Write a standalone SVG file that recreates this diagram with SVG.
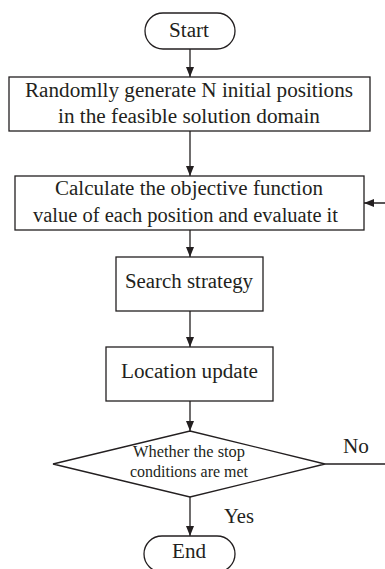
<svg xmlns="http://www.w3.org/2000/svg" width="385" height="569" viewBox="0 0 385 569">
<defs>
<style>
.n{fill:#fff;stroke:#231f20;stroke-width:1.3}
.t{font-family:"Liberation Serif","Times New Roman",serif;fill:#231f20;font-size:20.5px}
.s{font-size:16px}
.c{fill:none;stroke:#231f20;stroke-width:1.3}
</style>
<marker id="ah" viewBox="0 0 10 10" refX="10" refY="5" markerWidth="10" markerHeight="10" markerUnits="userSpaceOnUse" orient="auto">
<path d="M0,1 L10,5 L0,9 Z" fill="#231f20"/>
</marker>
</defs>
<rect width="385" height="569" fill="#fff"/>
<g id="connectors">
<line class="c" x1="190" y1="49" x2="190" y2="77" marker-end="url(#ah)"/>
<line class="c" x1="190" y1="131" x2="190" y2="176" marker-end="url(#ah)"/>
<line class="c" x1="190" y1="230" x2="190" y2="257" marker-end="url(#ah)"/>
<line class="c" x1="190" y1="311" x2="190" y2="347" marker-end="url(#ah)"/>
<line class="c" x1="190" y1="401" x2="190" y2="431" marker-end="url(#ah)"/>
<line class="c" x1="190" y1="497" x2="190" y2="536" marker-end="url(#ah)"/>
<path class="c" d="M325,464 H392 V203 H364" marker-end="url(#ah)"/>
<text class="t" x="343" y="453" textLength="26" lengthAdjust="spacingAndGlyphs">No</text>
<text class="t" x="224" y="523" textLength="30" lengthAdjust="spacingAndGlyphs">Yes</text>
</g>
<g id="start">
<rect class="n" x="145" y="13" width="90" height="36" rx="18"/>
<text class="t" x="169" y="37" textLength="40" lengthAdjust="spacingAndGlyphs">Start</text>
</g>
<g id="init">
<rect class="n" x="9" y="77" width="361" height="54"/>
<text class="t" x="25" y="97" textLength="328" lengthAdjust="spacingAndGlyphs">Randomlly generate N initial positions</text>
<text class="t" x="58" y="123" textLength="262" lengthAdjust="spacingAndGlyphs">in the feasible solution domain</text>
</g>
<g id="evaluate">
<rect class="n" x="15" y="176" width="349" height="54"/>
<text class="t" x="55" y="195" textLength="268" lengthAdjust="spacingAndGlyphs">Calculate the objective function</text>
<text class="t" x="33" y="222" textLength="305" lengthAdjust="spacingAndGlyphs">value of each position and evaluate it</text>
</g>
<g id="search">
<rect class="n" x="116" y="257" width="147" height="54"/>
<text class="t" x="125" y="288" textLength="128" lengthAdjust="spacingAndGlyphs">Search strategy</text>
</g>
<g id="update">
<rect class="n" x="106" y="347" width="167" height="54"/>
<text class="t" x="121" y="378" textLength="137" lengthAdjust="spacingAndGlyphs">Location update</text>
</g>
<g id="decision">
<polygon class="n" points="190,431 325,464 190,497 53,464"/>
<text class="t s" x="133" y="457" textLength="112" lengthAdjust="spacingAndGlyphs">Whether the stop</text>
<text class="t s" x="130" y="477" textLength="118" lengthAdjust="spacingAndGlyphs">conditions are met</text>
</g>
<g id="end">
<rect class="n" x="144" y="536" width="91" height="36" rx="18"/>
<text class="t" x="172" y="558" textLength="34" lengthAdjust="spacingAndGlyphs">End</text>
</g>
</svg>
